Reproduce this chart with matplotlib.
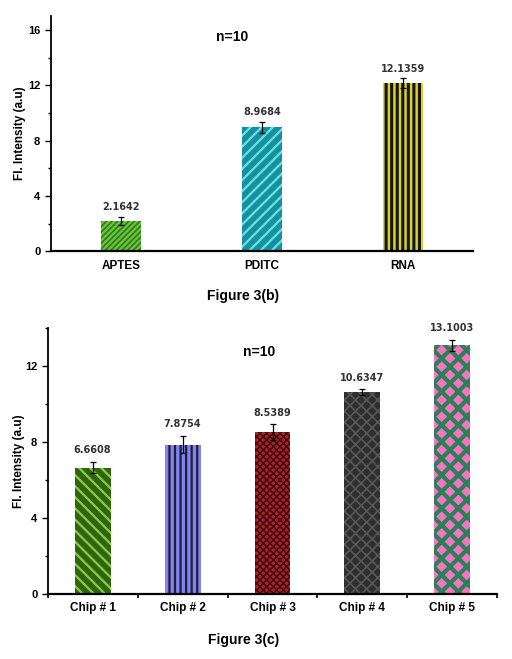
import matplotlib
matplotlib.use('Agg')
import matplotlib.pyplot as plt
from matplotlib.ticker import MultipleLocator

# Figure 3(b)
surfaceNames = ['APTES', 'PDITC', 'RNA']
surfaceValues = [2.1642, 8.9684, 12.1359]
surfaceErrors = [0.30, 0.40, 0.35]

# Figure 3(c)
chipNames = ['Chip # 1', 'Chip # 2', 'Chip # 3', 'Chip # 4', 'Chip # 5']
chipValues = [6.6608, 7.8754, 8.5389, 10.6347, 13.1003]
chipErrors = [0.30, 0.45, 0.40, 0.15, 0.30]

# (face colour, hatch colour, hatch, hatch line width)
surfaceStyles = [
    ('#6cc43c', '#2e7a1c', '//////', 1.2),
    ('#1a8e9c', '#5fe6e6', '///', 1.6),
    ('#d8d030', '#141410', '|||', 2.2),
]
chipStyles = [
    ('#2f6414', '#8ccc3c', '\\\\\\', 1.6),
    ('#7b86f0', '#2a1838', '|||', 1.6),
    ('#a8262a', '#4a0c10', 'xxxxx', 1.2),
    ('#2e2e2e', '#575757', 'xxx', 1.2),
    ('#f274c6', '#2e7f55', 'xx', 3.0),
]

plt.rcParams.update({
    'font.family': ['Liberation Sans', 'DejaVu Sans'],
})


def barPanel(ax, names, values, errors, styles, yTop, width, labelSize):
    xs = [i + 0.5 for i in range(len(names))]
    for x, v, (fc, hc, hatch, hlw) in zip(xs, values, styles):
        with plt.rc_context({'hatch.linewidth': hlw}):
            b = ax.bar(x, v, width=width, color=fc, edgecolor=hc, hatch=hatch,
                       linewidth=0, zorder=2)
            for p in b.patches:
                if hasattr(p, 'set_hatch_linewidth'):
                    p.set_hatch_linewidth(hlw)
    ax.errorbar(xs, values, yerr=errors, fmt='none', ecolor='black',
                elinewidth=0.9, capsize=2.2, capthick=0.9, zorder=3)
    for x, v, e in zip(xs, values, errors):
        ax.text(x, v + e + 0.35, f'{v:.4f}', ha='center', va='bottom',
                fontsize=labelSize, fontweight='bold', color='#333333',
                family='DejaVu Sans')
    ax.set_xlim(0, len(names))
    ax.set_ylim(0, yTop)
    ax.yaxis.set_major_locator(MultipleLocator(4))
    ax.yaxis.set_minor_locator(MultipleLocator(2))
    ax.set_xticks(xs)
    ax.set_xticklabels(names, fontweight='bold', fontsize=8.5)
    for lbl in ax.get_yticklabels():
        lbl.set_fontweight('bold')
        lbl.set_fontsize(8)
    ax.spines['top'].set_visible(False)
    ax.spines['right'].set_visible(False)
    ax.spines['left'].set_linewidth(1.3)
    ax.spines['bottom'].set_linewidth(1.6)
    ax.tick_params(axis='y', which='major', length=4, width=1)
    ax.tick_params(axis='y', which='minor', length=2.5, width=1)
    ax.set_ylabel('Fl. Intensity (a.u)', fontweight='bold', fontsize=8.5)
    ax.text(0.43 if len(names) == 3 else 0.47, 0.91, 'n=10', transform=ax.transAxes,
            fontsize=10, fontweight='bold', ha='center', va='center')


fig = plt.figure(figsize=(5.12, 6.59), dpi=100)

ax1 = fig.add_axes([0.099, 0.6187, 0.8255, 0.3570])
barPanel(ax1, surfaceNames, surfaceValues, surfaceErrors, surfaceStyles, 17, 0.284, 7)
ax1.tick_params(axis='x', length=0, pad=6)
ax1.yaxis.set_label_coords(-0.058, 0.5)

ax2 = fig.add_axes([0.0932, 0.0986, 0.8781, 0.4032])
barPanel(ax2, chipNames, chipValues, chipErrors, chipStyles, 14, 0.4, 7)
ax2.set_xticks(range(len(chipNames) + 1), minor=True)
ax2.tick_params(axis='x', which='major', length=0, pad=6)
ax2.tick_params(axis='x', which='minor', length=3, width=1.2)
ax2.yaxis.set_label_coords(-0.05, 0.5)

fig.text(0.475, 1 - 296 / 659, 'Figure 3(b)', ha='center', va='center',
         fontsize=10, fontweight='bold')
fig.text(0.475, 1 - 640 / 659, 'Figure 3(c)', ha='center', va='center',
         fontsize=10, fontweight='bold')

fig.savefig('out.png', dpi=100)
